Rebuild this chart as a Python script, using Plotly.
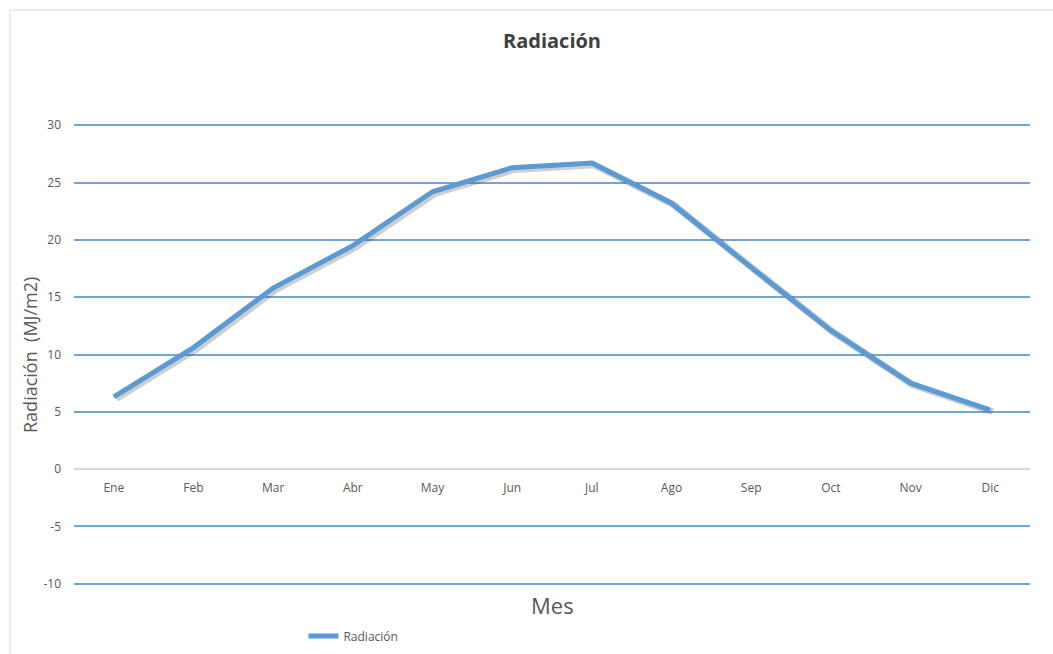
import plotly.graph_objects as go

# Monthly solar radiation (MJ/m2)
meses = ["Ene", "Feb", "Mar", "Abr", "May", "Jun", "Jul", "Ago", "Sep", "Oct", "Nov", "Dic"]
radiacion = [6.3, 10.6, 15.8, 19.5, 24.2, 26.3, 26.7, 23.2, 17.6, 12.1, 7.5, 5.15]
y_ticks = [-10, -5, 0, 5, 10, 15, 20, 25, 30]
y_ticktext = ["-10", "-5", "0", "5", "10", "15", "20", "25", "30"]

idx = list(range(len(meses)))
BLUE = "#5B9BD5"
GRID = "#72A6DA"
TXT = "#595959"
FONT = "Open Sans"

PAD = 0.2  # keeps the outer gridlines inside the plotting area
y_lo, y_hi = y_ticks[0] - PAD, y_ticks[-1] + PAD

fig = go.Figure()

# soft drop shadow under the series line
fig.add_trace(go.Scatter(
    x=[i + 0.03 for i in idx], y=[v - 0.15 for v in radiacion],
    mode="lines", line=dict(color="rgba(60,60,60,0.25)", width=7),
    hoverinfo="skip", showlegend=False,
))
fig.add_trace(go.Scatter(
    x=idx, y=radiacion, mode="lines", name="Radiación",
    line=dict(color=BLUE, width=5),
))

fig.update_layout(
    width=1053, height=654,
    margin=dict(l=74, r=23, t=123, b=68, autoexpand=False),
    paper_bgcolor="white", plot_bgcolor="white",
    font=dict(family=FONT, color=TXT, size=12),
    title=dict(text="<b>Radiación</b>", x=0.5, xref="paper", y=0.938, yanchor="middle",
               font=dict(family=FONT, size=20, color="#404040")),
    showlegend=True,
    legend=dict(orientation="h", x=0.24, xanchor="left", y=-0.108, yanchor="middle",
                font=dict(size=12, color=TXT), itemwidth=30),
    xaxis=dict(
        tickmode="array", tickvals=idx, ticktext=meses,
        range=[-0.5, len(meses) - 0.5],
        anchor="free", position=(0 - y_lo) / (y_hi - y_lo),
        showgrid=False, zeroline=False, showline=False,
        ticks="", ticklabelstandoff=10,
        tickfont=dict(size=12, color=TXT),
    ),
    yaxis=dict(
        range=[y_lo, y_hi],
        tickmode="array", tickvals=y_ticks, ticktext=y_ticktext,
        showgrid=True, gridcolor=GRID, gridwidth=1.6,
        zeroline=True, zerolinecolor="#D9D9D9", zerolinewidth=1.6,
        showline=False, ticks="", ticklabelstandoff=12,
        tickfont=dict(size=12, color=TXT),
    ),
    shapes=[dict(type="rect", xref="paper", yref="paper",
                 x0=-0.067, y0=-0.2, x1=1.1, y1=1.244,
                 line=dict(color="#D9D9D9", width=1), layer="below")],
    annotations=[
        dict(text="Mes", xref="paper", yref="paper", x=0.5, y=-0.041,
             yanchor="middle", showarrow=False,
             font=dict(family=FONT, size=22, color=TXT)),
        dict(text="Radiación  (MJ/m2)", xref="paper", yref="paper", x=-0.046, y=0.499,
             xanchor="center", yanchor="middle", textangle=-90, showarrow=False,
             font=dict(family=FONT, size=18, color=TXT)),
    ],
)

fig.write_html("out.html")
